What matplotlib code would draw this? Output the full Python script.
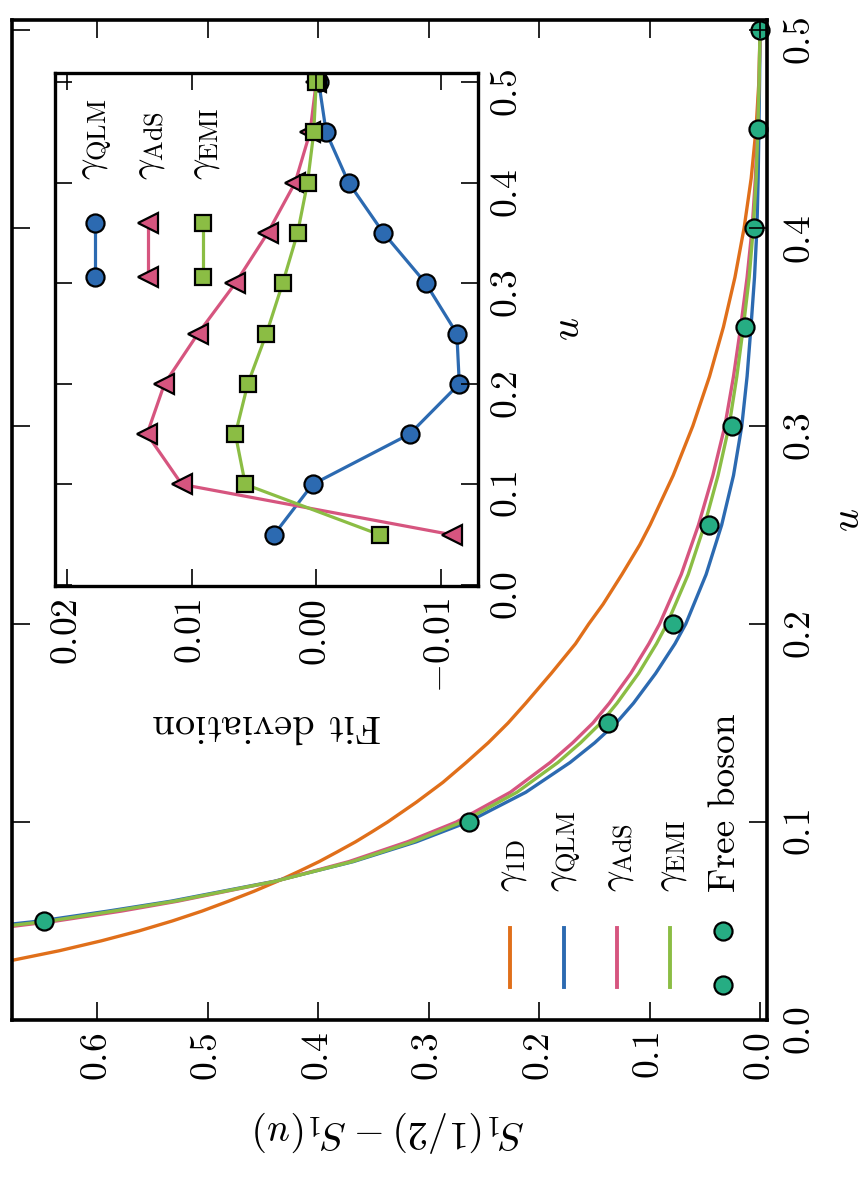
import matplotlib
matplotlib.use('Agg')
import matplotlib.pyplot as plt
from matplotlib.lines import Line2D

# free boson data
u_pts = [0.05, 0.10, 0.15, 0.20, 0.25, 0.30, 0.35, 0.40, 0.45, 0.50]
s_boson = [0.648, 0.263, 0.1376, 0.0787, 0.0461, 0.0253, 0.0136, 0.0054, 0.0018, 0.0]

# fit curves
u_1d = [0.025, 0.03, 0.035, 0.04, 0.045, 0.05, 0.055, 0.06, 0.065, 0.07, 0.075,
        0.08, 0.085, 0.09, 0.095, 0.1, 0.11, 0.12, 0.13, 0.14, 0.15, 0.16, 0.175,
        0.19, 0.2, 0.21, 0.225, 0.24, 0.25, 0.275, 0.3, 0.325, 0.35, 0.375, 0.4,
        0.425, 0.45, 0.475, 0.5]
s_1d = [0.730, 0.678, 0.634, 0.596, 0.562, 0.532, 0.505, 0.481, 0.458, 0.437,
        0.4176, 0.399, 0.3823, 0.366, 0.3513, 0.337, 0.311, 0.287, 0.266, 0.246,
        0.228, 0.212, 0.189, 0.167, 0.155, 0.142, 0.125, 0.1088, 0.0995, 0.0786,
        0.0608, 0.0457, 0.0331, 0.0227, 0.0144, 0.0080, 0.0036, 0.0009, 0.0]

u_fit = [0.045, 0.05, 0.055, 0.06, 0.07, 0.08, 0.09, 0.1, 0.115, 0.13, 0.14, 0.15,
         0.16, 0.175, 0.19, 0.2, 0.225, 0.25, 0.275, 0.3, 0.325, 0.35, 0.375, 0.4,
         0.425, 0.45, 0.475, 0.5]
s_qlm = [0.735, 0.6514, 0.590, 0.533, 0.440, 0.368, 0.311, 0.2643, 0.212, 0.172,
         0.1496, 0.1301, 0.1145, 0.0945, 0.0770, 0.0672, 0.0488, 0.0347, 0.0240,
         0.0165, 0.0117, 0.0082, 0.0050, 0.0028, 0.0017, 0.0010, 0.0004, 0.0]
s_ads = [0.710, 0.637, 0.578, 0.527, 0.439, 0.372, 0.319, 0.2748, 0.226, 0.190,
         0.1695, 0.1512, 0.1364, 0.117, 0.1006, 0.0909, 0.0713, 0.0557, 0.0427,
         0.0318, 0.0240, 0.0175, 0.0117, 0.0071, 0.0042, 0.0023, 0.0008, 0.0]
s_emi = [0.720, 0.643, 0.585, 0.530, 0.439, 0.369, 0.314, 0.2697, 0.220, 0.183,
         0.1624, 0.1441, 0.1294, 0.110, 0.0937, 0.0842, 0.065, 0.0502, 0.038,
         0.028, 0.021, 0.0151, 0.0098, 0.0061, 0.0035, 0.0020, 0.0008, 0.0]

# inset: fit deviation
dev_qlm = [0.0034, 0.0003, -0.0075, -0.0115, -0.0113, -0.0088, -0.0054, -0.0026, -0.0008, -0.0002]
dev_ads = [-0.0109, 0.0108, 0.0136, 0.0122, 0.0095, 0.0065, 0.0039, 0.0017, 0.0005, 0.0]
dev_emi = [-0.0051, 0.0057, 0.0065, 0.0055, 0.0040, 0.0027, 0.0015, 0.0007, 0.0002, 0.0]

s_ticks = [0.0, 0.1, 0.2, 0.3, 0.4, 0.5, 0.6]
u_ticks = [0.0, 0.1, 0.2, 0.3, 0.4, 0.5]
dev_ticks = [-0.01, 0.0, 0.01, 0.02]

labels_main = [r'$\gamma_{\rm 1D}$', r'$\gamma_{\rm QLM}$', r'$\gamma_{\rm AdS}$',
               r'$\gamma_{\rm EMI}$', 'Free boson']

c_1d = '#e06f1a'
c_qlm = '#2c6ab1'
c_ads = '#d6557f'
c_emi = '#8bbd44'
c_fb = '#26ad83'

plt.rcParams['font.family'] = 'serif'
plt.rcParams['font.serif'] = ['cmr10', 'DejaVu Serif']
plt.rcParams['mathtext.fontset'] = 'cm'
plt.rcParams['axes.formatter.use_mathtext'] = True
plt.rcParams['axes.unicode_minus'] = True

FS = 27

fig = plt.figure(figsize=(8.67, 11.87), dpi=100)

# main axes (figure is drawn rotated: u runs upward, S runs leftward)
ax = fig.add_axes([0.01384, 0.14069, 0.8708, 0.8425])
ax.set_axisbelow(False)
ax.plot(s_1d, u_1d, color=c_1d, lw=2.4)
ax.plot(s_qlm, u_fit, color=c_qlm, lw=2.4)
ax.plot(s_ads, u_fit, color=c_ads, lw=2.4)
ax.plot(s_emi, u_fit, color=c_emi, lw=2.4)
ax.plot(s_boson, u_pts, 'o', color=c_fb, ms=13, mec='black', mew=1.6,
        clip_on=False, zorder=2.2)

ax.set_xlim(0.677, -0.0063)
ax.set_ylim(0.0, 0.505)
ax.set_xticks(s_ticks)
ax.set_yticks(u_ticks)
for sp in ax.spines.values():
    sp.set_linewidth(2.6)
ax.tick_params(direction='in', length=13, width=1.2, top=True, bottom=True,
               left=True, right=True, labelleft=False, labelright=True,
               labelsize=FS, pad=9)
ax.tick_params(axis='x', labelrotation=90)
ax.tick_params(axis='y', labelrotation=90, pad=12)
ax.yaxis.set_label_position('right')
ax.set_xlabel(r'$S_1(1/2) - S_1(u)$', fontsize=FS + 2, rotation=180, labelpad=20)
ax.set_ylabel(r'$u$', fontsize=FS + 2, rotation=90, labelpad=10)

# hand-made legend, laid out sideways
leg_x = [0.660, 0.731, 0.802, 0.872, 0.942]
leg_cols = [c_1d, c_qlm, c_ads, c_emi]
for xi, col in zip(leg_x[:4], leg_cols):
    ax.add_line(Line2D([xi, xi], [0.033, 0.092], color=col, lw=2.8,
                       transform=ax.transAxes))
ax.add_line(Line2D([leg_x[4], leg_x[4]], [0.035, 0.089], ls='none', marker='o',
                   color=c_fb, ms=13, mec='black', mew=1.6, transform=ax.transAxes))
for xi, lab in zip(leg_x, labels_main):
    ax.text(xi + 0.003, 0.128, lab, rotation=90, ha='center', va='bottom',
            fontsize=FS, transform=ax.transAxes)

# inset
axin = fig.add_axes([0.0634, 0.5063, 0.4879, 0.4322])
axin.set_axisbelow(False)
axin.plot(dev_qlm, u_pts, '-o', color=c_qlm, lw=2.3, ms=13, mec='black', mew=1.6)
axin.plot(dev_ads, u_pts, '-<', color=c_ads, lw=2.3, ms=15, mec='black', mew=1.6)
axin.plot(dev_emi, u_pts, '-s', color=c_emi, lw=2.3, ms=11.5, mec='black', mew=1.6)
axin.set_xlim(0.021, -0.013)
axin.set_ylim(-0.001, 0.509)
axin.set_xticks(dev_ticks)
axin.set_yticks(u_ticks)
for sp in axin.spines.values():
    sp.set_linewidth(2.4)
axin.tick_params(direction='in', length=12, width=1.2, top=True, bottom=True,
                 left=True, right=True, labelleft=False, labelright=True,
                 labelsize=FS, pad=9)
axin.tick_params(axis='x', labelrotation=90)
axin.tick_params(axis='y', labelrotation=90)
axin.yaxis.set_label_position('right')
axin.set_xlabel('Fit deviation', fontsize=FS + 2, rotation=180, labelpad=10)
axin.set_ylabel(r'$u$', fontsize=FS + 2, rotation=90, labelpad=20)

in_x = [0.0946, 0.220, 0.350]
in_style = [('o', c_qlm, 13), ('<', c_ads, 15), ('s', c_emi, 11.5)]
in_labels = labels_main[1:4]
for xi, (mk, col, ms), lab in zip(in_x, in_style, in_labels):
    axin.add_line(Line2D([xi, xi], [0.602, 0.7076], color=col, lw=2.3, marker=mk,
                         ms=ms, mec='black', mew=1.6, transform=axin.transAxes))
    axin.text(xi + 0.006, 0.791, lab, rotation=90, ha='center', va='bottom',
              fontsize=FS, transform=axin.transAxes)

fig.savefig('out.png', dpi=100)
